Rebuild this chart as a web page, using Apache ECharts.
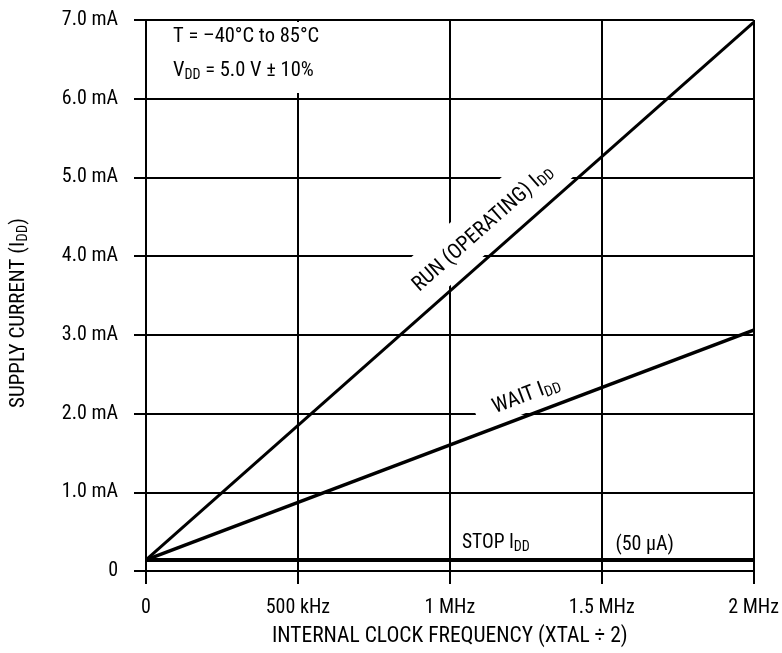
<!DOCTYPE html>
<html><head><meta charset="utf-8">
<script src="https://cdn.jsdelivr.net/npm/echarts@6/dist/echarts.min.js"></script>
<style>html,body{margin:0;padding:0;background:#fff}#c{width:782px;height:653px}</style>
</head><body><div id="c"></div>
<script>
// ---- data ----
const freqTickLabels = ['0', '500 kHz', '1 MHz', '1.5 MHz', '2 MHz'];
const currentTickLabels = ['0', '1.0 mA', '2.0 mA', '3.0 mA', '4.0 mA', '5.0 mA', '6.0 mA', '7.0 mA'];
const freqMHz = [0, 2];
const runIdd = [0.14, 6.97];
const waitIdd = [0.14, 3.06];
const stopIdd = [0.14, 0.14];

const FONT = "'Roboto Condensed', 'Liberation Sans', Arial, sans-serif";
const chart = echarts.init(document.getElementById('c'), null, {renderer: 'canvas'});
const pair = arr => freqMHz.map((f, i) => [f, arr[i]]);

const option = {
  animation: false,
  backgroundColor: '#fff',
  grid: {left: 146, right: 25, top: 20, bottom: 79, containLabel: false},
  xAxis: {
    type: 'value', min: 0, max: 2, interval: 0.5,
    name: 'INTERNAL CLOCK FREQUENCY (XTAL ÷ 2)', nameLocation: 'middle', nameGap: 55,
    nameTextStyle: {color: '#000', fontSize: 21.5, fontFamily: FONT},
    axisLine: {lineStyle: {color: '#000', width: 2}},
    axisTick: {show: true, length: 13, lineStyle: {color: '#000', width: 2}},
    axisLabel: {color: '#000', fontSize: 20, fontFamily: FONT, margin: 27,
      formatter: v => freqTickLabels[Math.round(v / 0.5)]},
    splitLine: {show: true, lineStyle: {color: '#000', width: 2}}
  },
  yAxis: {
    type: 'value', min: 0, max: 7, interval: 1,
    axisLine: {show: true, lineStyle: {color: '#000', width: 2}},
    axisTick: {show: true, length: 12, lineStyle: {color: '#000', width: 2}},
    axisLabel: {color: '#000', fontSize: 20, fontFamily: FONT, margin: 28,
      formatter: v => currentTickLabels[Math.round(v)]},
    splitLine: {show: true, lineStyle: {color: '#000', width: 2}}
  },
  series: [
    {type: 'line', name: 'RUN', data: pair(runIdd), symbol: 'none', z: 10, silent: true,
      lineStyle: {color: '#000', width: 3}},
    {type: 'line', name: 'WAIT', data: pair(waitIdd), symbol: 'none', z: 10, silent: true,
      lineStyle: {color: '#000', width: 3.5}},
    {type: 'line', name: 'STOP', data: pair(stopIdd), symbol: 'none', z: 10, silent: true,
      lineStyle: {color: '#000', width: 4}}
  ]
};
chart.setOption(option);

function mkRich(fs) {
  return {
    a: {fontSize: fs, fontFamily: FONT, lineHeight: fs + 3, fill: '#000', color: '#000'},
    s: {fontSize: Math.round(fs * 0.7), fontFamily: FONT, lineHeight: Math.round(fs * 0.55), verticalAlign: 'bottom', fill: '#000', color: '#000'}
  };
}
function px(x, y) { return chart.convertToPixel({gridIndex: 0}, [x, y]); }
function txt(x, y, text, align, fs, rot) {
  return {type: 'text', z: 6, x: x, y: y, rotation: rot || 0,
    style: {text: text, rich: mkRich(fs), fill: '#000', font: fs + 'px ' + FONT,
      align: align, textAlign: align, verticalAlign: 'middle', textVerticalAlign: 'middle'}};
}
function bandLabel(vals, box, tu, tv, text, fs) {
  const p0 = px(freqMHz[0], vals[0]);
  const p1 = px(freqMHz[1], vals[1]);
  const ang = Math.atan2(p0[1] - p1[1], p1[0] - p0[0]);
  return {type: 'group', x: p0[0], y: p0[1], rotation: ang, children: [
    {type: 'rect', z: 5, shape: {x: box[0], y: -box[3], width: box[1] - box[0], height: box[3] - box[2]},
      style: {fill: '#fff'}},
    txt(tu, -tv, text, 'center', fs)
  ]};
}

const stopP = px(1.04, stopIdd[0]);
const noteP = px(1.545, stopIdd[0]);
const graphics = [
  {type: 'rect', z: 5, shape: {x: 148, y: 22, width: 185, height: 71}, style: {fill: '#fff'}},
  txt(173, 37, '{a|T = –40°C to 85°C}', 'left', 20.5),
  txt(173, 71, '{a|V}{s|DD}{a| = 5.0 V ± 10%}', 'left', 20.5),
  bandLabel(runIdd, [372, 592, 4, 51], 472, 25, '{a|RUN (OPERATING) I}{s|DD}', 21),
  bandLabel(waitIdd, [360, 468, 3, 30], 414, 19, '{a|WAIT I}{s|DD}', 21),
  txt(stopP[0], stopP[1] - 17, '{a|STOP I}{s|DD}', 'left', 19.5),
  txt(noteP[0], noteP[1] - 15, '{a|(50 μA)}', 'left', 20),
  txt(19, 313, '{a|SUPPLY CURRENT (I}{s|DD}{a|)}', 'center', 21, Math.PI / 2)
];
chart.setOption({graphic: graphics});
</script>
</body></html>
